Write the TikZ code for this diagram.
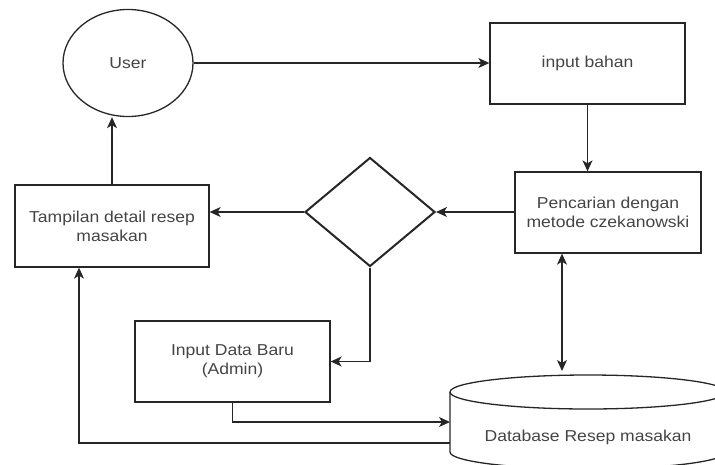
\documentclass[tikz,border=0pt]{standalone}
\usepackage{fontspec}
\setmainfont{Liberation Sans}[FakeStretch=1.11]
\usetikzlibrary{shapes.geometric,arrows.meta,calc}
\definecolor{txt}{HTML}{444444}
\tikzset{
  line/.style={draw=black!85, line width=1.3pt},
  tip/.tip={Stealth[length=11pt,width=10pt,inset=3pt]},
  arr/.style={line, -tip},
  darr/.style={line, tip-tip},
  box/.style={line, rectangle, inner sep=0pt, align=center, text=txt,
    font=\fontsize{15.8}{19}\selectfont},
  lbl/.style={inner sep=0pt, align=center, text=txt, font=\fontsize{15.8}{19}\selectfont}
}
\begin{document}
\begin{tikzpicture}[x=1pt,y=-1pt]
\useasboundingbox (0,0) rectangle (715,464);
\node[box, ellipse, minimum width=130pt, minimum height=107pt] (user) at (128,63) {User};
\node[box, minimum width=195pt, minimum height=81pt] (inbahan) at (587.5,63.5) {input bahan};
\node[box, minimum width=186pt, minimum height=81pt] (cari) at (608,212.5) {Pencarian dengan\\metode czekanowski};
\node[line, diamond, line width=2pt, minimum width=130pt, minimum height=109pt, inner sep=0pt, aspect=1.19] (dia) at (370,212) {};
\node[box, minimum width=194pt, minimum height=82pt] (tamp) at (112,226) {Tampilan detail resep\\masakan};
\node[box, minimum width=195pt, minimum height=81pt] (admin) at (232.5,361.5) {Input Data Baru\\(Admin)};
% database cylinder
\draw[line] (588,392) ellipse [x radius=138, y radius=17];
\draw[line] (450,392) -- (450,452) arc[start angle=180, end angle=0, x radius=138, y radius=17] -- (726,392);
\node[lbl] (db) at (588,437) {Database Resep masakan};
\coordinate (dbin) at (450,422);
\coordinate (dbout) at (450,443);
\coordinate (dbtop) at (562,371);
% connectors
\draw[arr] (user.east) -- (user.east -| inbahan.west);
\draw[arr] (inbahan.south) -- (inbahan.south |- cari.north);
\draw[arr] (cari.west |- dia.east) -- (dia.east);
\draw[arr] (dia.west) -- (dia.west -| tamp.east);
\draw[arr] (tamp.north) -- (tamp.north |- user.south);
\draw[arr] (dia.south) |- (admin.east);
\draw[arr] (admin.south) |- (dbin);
\draw[arr] (dbout) -| ([xshift=-33pt]tamp.south);
\draw[darr] ([xshift=-46pt]cari.south) -- (dbtop);
\end{tikzpicture}
\end{document}
